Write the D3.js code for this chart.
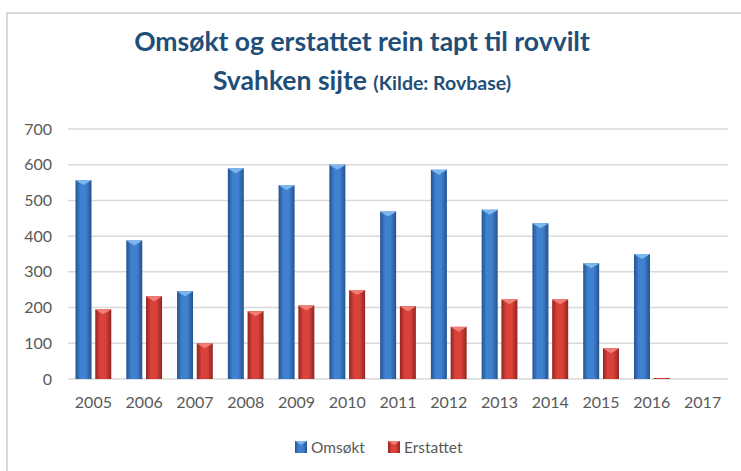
<!DOCTYPE html>
<html>
<head>
<meta charset="utf-8">
<style>
body {margin: 0; background: #fff; font-family: Lato, "Open Sans", Arial, sans-serif;}
</style>
<script src="https://cdnjs.cloudflare.com/ajax/libs/d3/7.8.5/d3.min.js"></script>
</head>
<body>
<div id="chart-container"></div>
<script>
    const years = ["2005", "2006", "2007", "2008", "2009", "2010", "2011", "2012", "2013", "2014", "2015", "2016", "2017"];
    const omsokt = [557, 388, 246, 590, 543, 600, 469, 586, 474, 436, 324, 350, 0];
    const erstattet = [195, 232, 100, 190, 206, 249, 204, 146, 223, 223, 86, 3, 0];
    const seriesNames = ["Omsøkt", "Erstattet"];
    const yTicks = [0, 100, 200, 300, 400, 500, 600, 700];

    const width = 741;
    const height = 471;

    const svg = d3.select("#chart-container")
        .append("svg")
        .attr("width", width)
        .attr("height", height);

    // gradients that give the bars their rounded excel look
    const defs = svg.append("defs");
    const grads = [
        {id: "gBlue", edge: "#24528f", mid: "#3f80cf"},
        {id: "gRed", edge: "#93241f", mid: "#d8423b"}
    ];
    grads.forEach(function(g) {
        const lg = defs.append("linearGradient").attr("id", g.id)
            .attr("x1", "0%").attr("x2", "100%").attr("y1", "0%").attr("y2", "0%");
        lg.append("stop").attr("offset", "0%").attr("stop-color", g.edge);
        lg.append("stop").attr("offset", "30%").attr("stop-color", g.mid);
        lg.append("stop").attr("offset", "65%").attr("stop-color", g.mid);
        lg.append("stop").attr("offset", "100%").attr("stop-color", g.edge);
    });
    const fills = ["url(#gBlue)", "url(#gRed)"];
    const tops = ["#7cb6ee", "#f07d76"];

    // chart frame (cut off at right and bottom like the screenshot)
    svg.append("rect")
        .attr("x", 7).attr("y", 13)
        .attr("width", 760).attr("height", 480)
        .attr("fill", "none")
        .attr("stroke", "#d9d9d9")
        .attr("stroke-width", 2);

    // title
    const title = svg.append("text")
        .attr("text-anchor", "middle")
        .attr("fill", "#1f4e79")
        .style("font-weight", "bold");
    title.append("tspan").attr("x", 362).attr("y", 51)
        .style("font-size", "26.5px")
        .text("Omsøkt og erstattet rein tapt til rovvilt");
    const l2 = title.append("tspan").attr("x", 362).attr("y", 90);
    l2.append("tspan").style("font-size", "26.5px").text("Svahken sijte ");
    l2.append("tspan").style("font-size", "19.5px").text("(Kilde: Rovbase)");

    const x = d3.scaleBand()
        .domain(years)
        .range([68, 728]);

    const xInner = d3.scaleBand()
        .domain(seriesNames)
        .range([0, x.bandwidth()])
        .paddingInner(0.19)
        .paddingOuter(0.38);

    const y = d3.scaleLinear()
        .domain([0, 700])
        .range([379, 129]);

    // gridlines
    svg.append("g")
        .selectAll("line")
        .data(yTicks)
        .join("line")
            .attr("x1", 68)
            .attr("x2", 728)
            .attr("y1", d => y(d))
            .attr("y2", d => y(d))
            .attr("stroke", "#d9d9d9")
            .attr("stroke-width", 1.5);

    // y axis labels
    const yAxis = svg.append("g")
        .attr("transform", "translate(52,0)")
        .call(d3.axisLeft(y).tickValues(yTicks).tickSize(0).tickPadding(0));
    yAxis.select(".domain").remove();
    yAxis.selectAll("text")
        .attr("fill", "#595959")
        .style("font-size", "16px")
        .style("font-family", "Lato, 'Open Sans', Arial, sans-serif");

    // x axis labels
    const xAxis = svg.append("g")
        .attr("transform", "translate(0,397)")
        .call(d3.axisBottom(x).tickSize(0).tickPadding(0));
    xAxis.select(".domain").remove();
    xAxis.selectAll("text")
        .attr("fill", "#595959")
        .style("font-size", "16px")
        .style("font-family", "Lato, 'Open Sans', Arial, sans-serif");

    const rows = years.map((yr, i) => ({year: yr, values: [omsokt[i], erstattet[i]]}));

    const groups = svg.append("g")
        .selectAll("g")
        .data(rows)
        .join("g")
        .attr("transform", d => `translate(${x(d.year)},0)`);

    const bars = groups.selectAll("g")
        .data(d => d.values.map((v, k) => ({name: seriesNames[k], k: k, value: v})))
        .join("g")
        .filter(d => d.value > 0);

    bars.append("rect")
        .attr("x", d => xInner(d.name))
        .attr("y", d => y(d.value))
        .attr("width", xInner.bandwidth())
        .attr("height", d => y(0) - y(d.value))
        .attr("fill", d => fills[d.k]);

    // little bevel at the top of each bar
    bars.filter(d => y(0) - y(d.value) > 6)
        .append("path")
        .attr("d", function(d) {
            const x0 = xInner(d.name), w = xInner.bandwidth(), t = y(d.value);
            return `M${x0},${t} L${x0 + w},${t} L${x0 + w - 2},${t + 1.5} L${x0 + w / 2},${t + 5} L${x0 + 2},${t + 1.5} Z`;
        })
        .attr("fill", d => tops[d.k]);

    // legend
    const legend = svg.append("g")
        .attr("transform", "translate(295,441)");
    const legendX = [0, 93];
    seriesNames.forEach(function(name, k) {
        const lg = legend.append("g").attr("transform", `translate(${legendX[k]},0)`);
        lg.append("rect")
            .attr("width", 12).attr("height", 12)
            .attr("fill", fills[k]);
        lg.append("path")
            .attr("d", "M0,0 L12,0 L6,4 Z")
            .attr("fill", tops[k]);
        lg.append("text")
            .attr("x", 16).attr("y", 11.5)
            .attr("fill", "#595959")
            .style("font-size", "15.5px")
            .text(name);
    });
</script>
</body>
</html>
